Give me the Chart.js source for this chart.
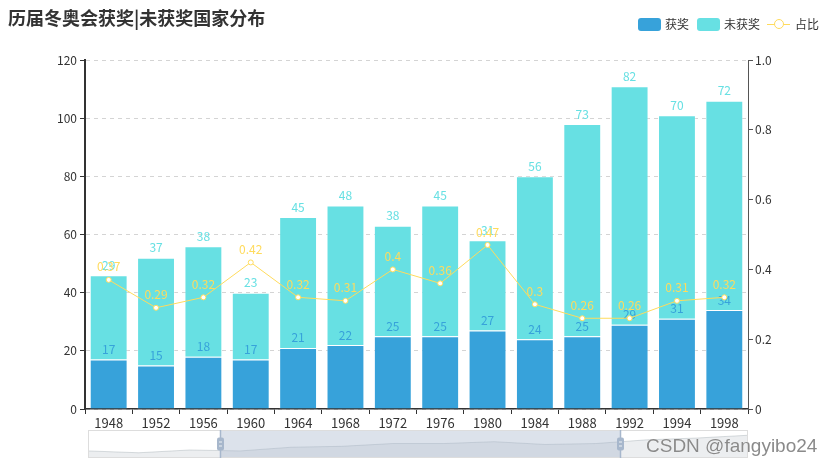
<!DOCTYPE html>
<html>
<head>
<meta charset="utf-8">
<script src="https://cdn.jsdelivr.net/npm/chart.js@4.4.1/dist/chart.umd.min.js"></script>
<style>
html,body{margin:0;padding:0;background:#fff;}
#wrap{position:relative;width:830px;height:469px;overflow:hidden;font-family:"Noto Sans CJK SC","Microsoft YaHei",sans-serif;}
#main{position:absolute;left:0;top:0;}
#zoomc{position:absolute;left:88px;top:430px;}
#title{position:absolute;left:8px;top:4px;font-size:18px;font-weight:bold;color:#333;line-height:26px;white-space:nowrap;}
.lgt{position:absolute;top:16px;font-size:12px;color:#333;line-height:16px;white-space:nowrap;}
.lgb{position:absolute;top:18px;width:23px;height:13px;border-radius:3px;}
#lgline{position:absolute;left:767px;top:23.5px;width:23px;height:1.5px;background:#ffdb5c;}
#lgdot{position:absolute;left:774px;top:19px;width:8px;height:8px;border:1.5px solid #ffdb5c;border-radius:50%;background:#fff;}
#wm{position:absolute;left:646px;top:435px;font-family:"Liberation Sans",Arial,sans-serif;font-size:19px;color:#8a8a8a;white-space:nowrap;text-shadow:0 0 1px #fff;}
</style>
</head>
<body>
<div id="wrap">
  <canvas id="main" width="830" height="469"></canvas>
  <canvas id="zoomc" width="660" height="28"></canvas>
  <div id="title">历届冬奥会获奖|未获奖国家分布</div>
  <div class="lgb" style="left:638px;background:#37a2da;"></div>
  <div class="lgt" style="left:665px;">获奖</div>
  <div class="lgb" style="left:697px;background:#67e0e3;"></div>
  <div class="lgt" style="left:724px;">未获奖</div>
  <div id="lgline"></div><div id="lgdot"></div>
  <div class="lgt" style="left:795px;">占比</div>
  <div id="wm">CSDN @fangyibo24</div>
</div>
<script>
const years = ['1948','1952','1956','1960','1964','1968','1972','1976','1980','1984','1988','1992','1994','1998'];
const winners = [17,15,18,17,21,22,25,25,27,24,25,29,31,34];
const nonWinners = [29,37,38,23,45,48,38,45,31,56,73,82,70,72];
const ratio = [0.37,0.29,0.32,0.42,0.32,0.31,0.4,0.36,0.47,0.3,0.26,0.26,0.31,0.32];
const zoomRange = [0.2, 0.806];

const FONT = '"Noto Sans CJK SC","Microsoft YaHei",sans-serif';

const labelPlugin = {
  id: 'valLabels',
  afterDatasetDraw(chart, args) {
    const ds = chart.data.datasets[args.index];
    const meta = args.meta;
    const ctx = chart.ctx;
    ctx.save();
    ctx.textAlign = 'center';
    ctx.textBaseline = 'bottom';
    ctx.font = '12px ' + FONT;
    ctx.fillStyle = ds.labelColor;
    const off = ds.type === 'line' ? 7 : 4;
    meta.data.forEach((el, i) => {
      ctx.fillText(String(ds.data[i]), el.x, el.y - off);
    });
    ctx.restore();
  }
};

new Chart(document.getElementById('main'), {
  data: {
    labels: years,
    datasets: [
      { type: 'bar', label: '获奖', data: winners, backgroundColor: '#37a2da', borderColor: 'rgba(255,255,255,0.35)', borderWidth: 1,
        labelColor: '#37a2da', yAxisID: 'y', stack: 's', order: 1, barPercentage: 0.8, categoryPercentage: 1.0 },
      { type: 'bar', label: '未获奖', data: nonWinners, backgroundColor: '#67e0e3', borderColor: 'rgba(255,255,255,0.35)', borderWidth: 1,
        labelColor: '#67e0e3', yAxisID: 'y', stack: 's', order: 1, barPercentage: 0.8, categoryPercentage: 1.0 },
      { type: 'line', label: '占比', data: ratio, borderColor: '#ffdb5c', borderWidth: 1, tension: 0,
        pointRadius: 2.5, pointBackgroundColor: '#fff', pointBorderColor: '#ffdb5c', pointBorderWidth: 1,
        labelColor: '#ffdb5c', yAxisID: 'y1', order: 0 }
    ]
  },
  options: {
    responsive: false,
    animation: false,
    layout: { padding: { top: 60, left: 0, right: 0, bottom: 0 } },
    plugins: { legend: { display: false }, tooltip: { enabled: false }, title: { display: false } },
    scales: {
      x: {
        stacked: true,
        offset: true,
        grid: { display: true, drawOnChartArea: false, drawTicks: true, tickLength: 5, tickColor: '#333', offset: true },
        border: { display: true, color: '#333', width: 1.5 },
        ticks: { color: '#333', font: { size: 13, family: FONT }, padding: 1, autoSkip: false, maxRotation: 0 },
        afterFit(s) { s.height = 60; }
      },
      y: {
        stacked: true,
        position: 'left',
        min: 0, max: 120,
        ticks: { stepSize: 20, color: '#333', font: { size: 12, family: FONT }, padding: 3 },
        grid: { color: '#d4d4d4', lineWidth: 1, tickColor: '#333', tickLength: 5 },
        border: { display: true, color: '#333', width: 2, dash: [4, 4] },
        afterFit(s) { s.width = 85; }
      },
      y1: {
        position: 'right',
        min: 0, max: 1,
        ticks: { stepSize: 0.2, color: '#333', font: { size: 12, family: FONT }, padding: 2 },
        grid: { drawOnChartArea: false, tickColor: '#555', tickLength: 5 },
        border: { display: true, color: '#555', width: 1 },
        afterFit(s) { s.width = 82; }
      }
    }
  },
  plugins: [labelPlugin]
});

const ext = [Math.min(...winners), Math.max(...winners)];
const pad = (ext[1] - ext[0]) * 0.3;

const sliderPlugin = {
  id: 'slider',
  afterDraw(chart) {
    const ctx = chart.ctx;
    const W = chart.width, H = chart.height;
    const x1 = Math.round(W * zoomRange[0]) + 0.5, x2 = Math.round(W * zoomRange[1]) + 0.5;
    ctx.save();
    ctx.fillStyle = 'rgba(167,183,204,0.4)';
    ctx.fillRect(x1, 0, x2 - x1, H);
    ctx.strokeStyle = '#ddd';
    ctx.lineWidth = 1;
    ctx.strokeRect(0.5, 0.5, W - 1, H - 1);
    [x1, x2].forEach(x => {
      ctx.strokeStyle = '#a7b7cc';
      ctx.lineWidth = 1.5;
      ctx.beginPath(); ctx.moveTo(x, 0); ctx.lineTo(x, H); ctx.stroke();
      ctx.fillStyle = '#a7b7cc';
      const hw = 7, hh = 13, hx = x - hw / 2, hy = H / 2 - hh / 2;
      ctx.beginPath();
      ctx.roundRect(hx, hy, hw, hh, 2);
      ctx.fill();
      ctx.strokeStyle = 'rgba(255,255,255,0.8)';
      ctx.lineWidth = 1;
      [hy + 4.5, hy + 8.5].forEach(yy => {
        ctx.beginPath(); ctx.moveTo(hx + 2, yy); ctx.lineTo(hx + hw - 2, yy); ctx.stroke();
      });
    });
    ctx.restore();
  }
};

new Chart(document.getElementById('zoomc'), {
  type: 'line',
  data: {
    labels: years,
    datasets: [{ data: winners, borderColor: 'rgba(47,69,84,0.22)', borderWidth: 0.8,
      backgroundColor: 'rgba(47,69,84,0.09)', fill: 'start', pointRadius: 0, tension: 0 }]
  },
  options: {
    responsive: false,
    animation: false,
    layout: { padding: 0 },
    plugins: { legend: { display: false }, tooltip: { enabled: false } },
    scales: {
      x: { display: false, offset: false },
      y: { display: false, min: ext[0] - pad, max: ext[1] + pad }
    }
  },
  plugins: [sliderPlugin]
});
</script>
</body>
</html>
